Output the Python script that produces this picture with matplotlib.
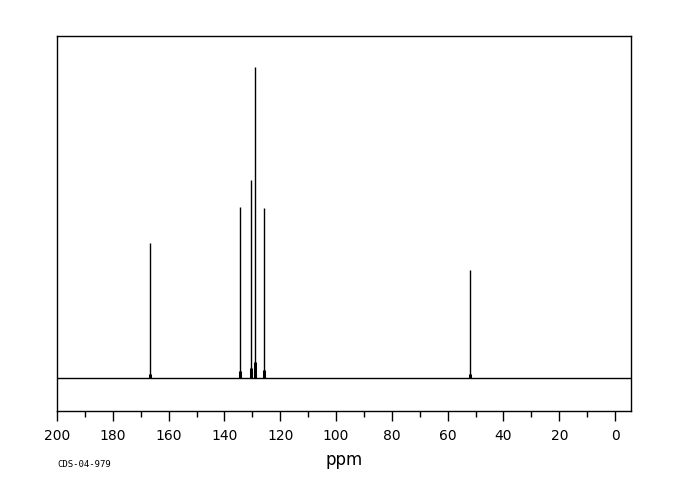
import matplotlib.pyplot as plt
from matplotlib.ticker import MultipleLocator

# pics du spectre (ppm, intensité relative)
ppm = [166.7, 134.4, 130.4, 129.2, 125.7, 52.0]
intensite = [43.4, 54.9, 63.6, 100.0, 54.6, 34.7]
# petites bosses au pied des pics
ppm_pied = [166.7, 134.4, 130.4, 129.2, 125.7, 52.0]
hauteur_pied = [1.2, 2.2, 3.3, 5.2, 2.6, 1.4]

fig = plt.figure(figsize=(6.8, 5), dpi=100)
ax = fig.add_axes([57/680, 89/500, 574/680, 375/500])

ax.hlines(0, -6, 201, color='black', linewidth=1)
ax.vlines(ppm, 0, intensite, color='black', linewidth=1)
ax.vlines(ppm_pied, 0, hauteur_pied, color='black', linewidth=2.2)

ax.set_xlim(200, -5.7)
ax.set_ylim(-10.6, 109.9)
ax.set_yticks([])
ax.xaxis.set_major_locator(MultipleLocator(20))
ax.xaxis.set_minor_locator(MultipleLocator(10))
ax.tick_params(axis='x', which='major', length=7, width=1, labelsize=10, pad=6)
ax.tick_params(axis='x', which='minor', length=4, width=1)
for s in ax.spines.values():
    s.set_linewidth(1)

ax.set_xlabel("ppm", fontsize=12, labelpad=6)
fig.text(57/680, 1 - 467/500, "CDS-04-979", fontsize=6.5, family='DejaVu Sans Mono')

plt.savefig('out.png', dpi=100)
